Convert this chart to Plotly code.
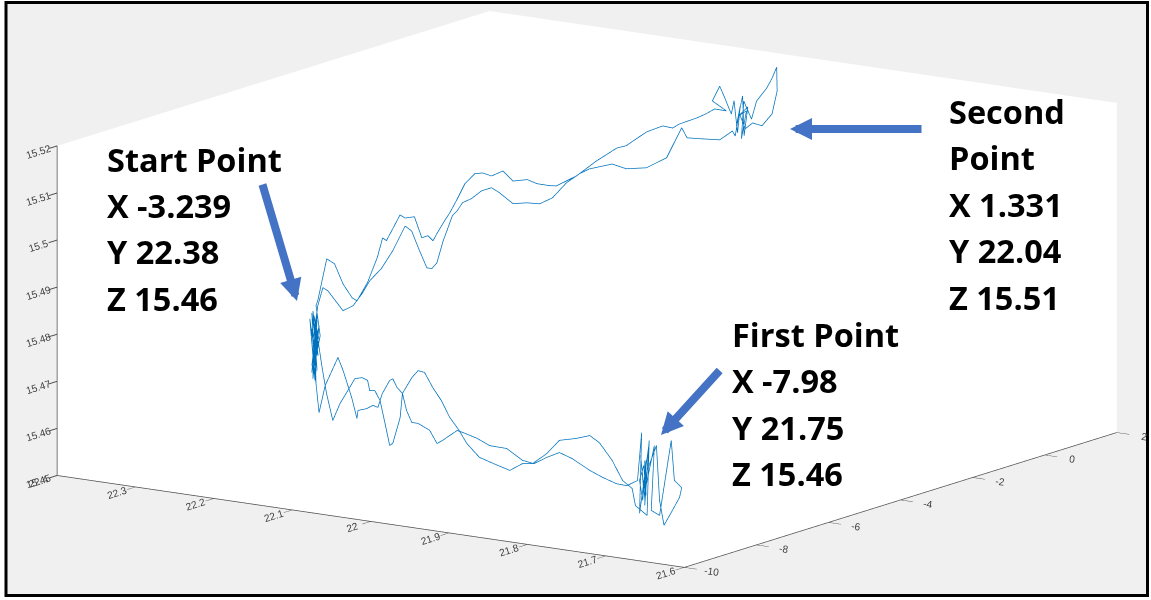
import plotly.graph_objects as go

# ---------------------------------------------------------------
# Recorded tool-tip trajectory, split into passes (X, Y, Z)
# ---------------------------------------------------------------
start_hover_a = [
    (-3.239, 22.380, 15.4600), (-3.230, 22.381, 15.4619), (-3.172, 22.389, 15.4685),
    (-3.216, 22.383, 15.4544), (-3.142, 22.393, 15.4671), (-3.245, 22.379, 15.4567),
    (-3.186, 22.387, 15.4690), (-3.260, 22.377, 15.4599), (-3.157, 22.391, 15.4646),
    (-3.230, 22.381, 15.4538), (-3.201, 22.385, 15.4681), (-3.274, 22.375, 15.4632),
    (-3.172, 22.389, 15.4573), (-3.245, 22.379, 15.4673), (-3.186, 22.387, 15.4553),
    (-3.260, 22.377, 15.4652), (-3.216, 22.383, 15.4559),
]

leg_to_first = [
    (-4.474, 22.320, 15.4521), (-4.562, 22.308, 15.4584), (-4.753, 22.283, 15.4654),
    (-4.826, 22.273, 15.4630), (-4.958, 22.256, 15.4580), (-5.031, 22.246, 15.4540),
    (-5.046, 22.244, 15.4558), (-5.178, 22.227, 15.4569), (-5.266, 22.215, 15.4581),
    (-5.339, 22.205, 15.4581), (-5.398, 22.197, 15.4613), (-5.515, 22.182, 15.4648),
    (-5.559, 22.176, 15.4654), (-5.617, 22.168, 15.4639), (-5.705, 22.157, 15.4631),
    (-5.837, 22.139, 15.4672), (-5.925, 22.127, 15.4692), (-6.028, 22.114, 15.4694),
    (-6.145, 22.098, 15.4668), (-6.277, 22.081, 15.4648), (-6.394, 22.065, 15.4619),
    (-6.541, 22.046, 15.4599), (-6.643, 22.032, 15.4578), (-6.834, 22.007, 15.4559),
    (-7.024, 21.981, 15.4557), (-7.273, 21.948, 15.4556), (-7.464, 21.923, 15.4581),
    (-7.640, 21.900, 15.4591), (-7.816, 21.876, 15.4614), (-8.006, 21.851, 15.4635),
    (-8.197, 21.826, 15.4633), (-8.446, 21.792, 15.4622), (-8.637, 21.767, 15.4618),
    (-8.842, 21.740, 15.4616), (-8.988, 21.720, 15.4620),
]

first_hover = [
    (-7.949, 21.754, 15.4598), (-8.008, 21.746, 15.4703), (-7.979, 21.750, 15.4530),
    (-8.125, 21.731, 15.4688), (-8.052, 21.740, 15.4551), (-8.081, 21.737, 15.4648),
    (-8.023, 21.744, 15.4560), (-7.980, 21.750, 15.4600), (-8.037, 21.742, 15.4635),
    (-8.081, 21.737, 15.4574), (-8.052, 21.740, 15.4646), (-8.067, 21.739, 15.4583),
    (-8.199, 21.721, 15.4686), (-8.155, 21.727, 15.4546), (-8.272, 21.711, 15.4542),
    (-8.448, 21.688, 15.4711), (-8.492, 21.682, 15.4629), (-8.594, 21.668, 15.4619),
    (-8.565, 21.672, 15.4597), (-8.462, 21.686, 15.4563), (-8.345, 21.702, 15.4525),
    (-8.272, 21.711, 15.4574), (-8.228, 21.717, 15.4688), (-8.096, 21.735, 15.4627),
    (-8.037, 21.742, 15.4582), (-7.993, 21.748, 15.4654), (-8.067, 21.739, 15.4562),
    (-8.125, 21.731, 15.4693), (-8.096, 21.735, 15.4532), (-7.920, 21.758, 15.4543),
]

leg_back_low = [
    (-9.076, 21.709, 15.4619), (-8.930, 21.728, 15.4628), (-8.783, 21.748, 15.4662),
    (-8.593, 21.773, 15.4689), (-8.446, 21.792, 15.4696), (-8.255, 21.818, 15.4679),
    (-8.006, 21.851, 15.4661), (-7.816, 21.876, 15.4622), (-7.611, 21.903, 15.4590),
    (-7.464, 21.923, 15.4588), (-7.229, 21.954, 15.4600), (-6.980, 21.987, 15.4592),
    (-6.790, 22.012, 15.4597), (-6.585, 22.040, 15.4598), (-6.497, 22.051, 15.4597),
    (-6.292, 22.079, 15.4564), (-6.204, 22.090, 15.4553), (-6.101, 22.104, 15.4575),
    (-5.925, 22.127, 15.4580), (-5.837, 22.139, 15.4577), (-5.764, 22.149, 15.4598),
    (-5.705, 22.157, 15.4631), (-5.661, 22.162, 15.4577), (-5.559, 22.176, 15.4517),
    (-5.515, 22.182, 15.4510), (-5.471, 22.188, 15.4539), (-5.368, 22.201, 15.4597),
    (-5.295, 22.211, 15.4614), (-5.222, 22.221, 15.4610), (-5.192, 22.225, 15.4630),
    (-5.104, 22.236, 15.4631), (-5.002, 22.250, 15.4623), (-4.928, 22.260, 15.4600),
    (-4.782, 22.279, 15.4558), (-4.679, 22.293, 15.4516), (-4.591, 22.305, 15.4568),
    (-4.518, 22.314, 15.4619),
]

start_hover_b = [
    (-3.260, 22.377, 15.4631), (-3.172, 22.389, 15.4558), (-3.230, 22.381, 15.4676),
    (-3.186, 22.387, 15.4546), (-3.274, 22.375, 15.4664), (-3.201, 22.385, 15.4606),
    (-3.245, 22.379, 15.4690), (-3.216, 22.383, 15.4582), (-3.289, 22.373, 15.4643),
    (-3.230, 22.381, 15.4704),
]

leg_to_second = [
    (-3.224, 22.379, 15.4715), (-3.129, 22.372, 15.4803), (-3.044, 22.366, 15.4792),
    (-2.960, 22.359, 15.4749), (-2.864, 22.352, 15.4719), (-2.811, 22.348, 15.4712),
    (-2.695, 22.340, 15.4750), (-2.600, 22.332, 15.4802), (-2.536, 22.328, 15.4844),
    (-2.494, 22.325, 15.4838), (-2.356, 22.314, 15.4892), (-2.303, 22.310, 15.4885),
    (-2.198, 22.303, 15.4887), (-2.123, 22.297, 15.4842), (-2.060, 22.292, 15.4846),
    (-2.007, 22.288, 15.4835), (-1.965, 22.285, 15.4850), (-1.880, 22.279, 15.4877),
    (-1.827, 22.275, 15.4893), (-1.742, 22.269, 15.4923), (-1.668, 22.263, 15.4954),
    (-1.562, 22.255, 15.4975), (-1.478, 22.249, 15.4976), (-1.383, 22.242, 15.4969),
    (-1.266, 22.233, 15.4979), (-1.160, 22.225, 15.4957), (-1.002, 22.214, 15.4959),
    (-0.906, 22.206, 15.4950), (-0.769, 22.196, 15.4945), (-0.695, 22.191, 15.4944),
    (-0.483, 22.175, 15.4964), (-0.271, 22.159, 15.4995), (-0.059, 22.143, 15.5021),
    (0.046, 22.136, 15.5025), (0.258, 22.120, 15.5053), (0.427, 22.107, 15.5065),
    (0.533, 22.099, 15.5060), (0.607, 22.094, 15.5068), (0.787, 22.080, 15.5080),
    (0.893, 22.073, 15.5088), (0.978, 22.066, 15.5098), (1.105, 22.057, 15.5093),
]

second_hover = [
    (0.957, 22.068, 15.5115), (1.031, 22.062, 15.5146), (1.084, 22.058, 15.5121),
    (1.158, 22.053, 15.5086), (1.189, 22.051, 15.5114), (1.221, 22.048, 15.5046),
    (1.253, 22.046, 15.5103), (1.210, 22.049, 15.5060), (1.274, 22.044, 15.5124),
    (1.295, 22.043, 15.5039), (1.331, 22.040, 15.5100), (1.232, 22.047, 15.5082),
    (1.316, 22.041, 15.5092), (1.263, 22.045, 15.5033), (1.285, 22.043, 15.5113),
    (1.369, 22.037, 15.5074), (1.422, 22.033, 15.5112), (1.528, 22.025, 15.5139),
    (1.581, 22.021, 15.5158), (1.634, 22.017, 15.5183), (1.645, 22.017, 15.5132),
    (1.592, 22.021, 15.5084), (1.486, 22.029, 15.5059), (1.380, 22.036, 15.5066),
    (1.306, 22.042, 15.5054), (1.242, 22.047, 15.5088), (1.200, 22.050, 15.5039),
    (1.168, 22.052, 15.5050),
]

leg_back_high = [
    (1.031, 22.062, 15.5032), (0.851, 22.076, 15.5035), (0.692, 22.088, 15.5038),
    (0.628, 22.092, 15.5060), (0.470, 22.104, 15.4997), (0.258, 22.120, 15.4977),
    (0.046, 22.136, 15.4976), (-0.102, 22.147, 15.4987), (-0.345, 22.165, 15.4978),
    (-0.451, 22.173, 15.4968), (-0.589, 22.183, 15.4950), (-0.737, 22.194, 15.4919),
    (-0.875, 22.204, 15.4907), (-1.012, 22.214, 15.4910), (-1.160, 22.225, 15.4909),
    (-1.298, 22.236, 15.4933), (-1.383, 22.242, 15.4944), (-1.488, 22.250, 15.4938),
    (-1.594, 22.258, 15.4922), (-1.690, 22.265, 15.4914), (-1.753, 22.269, 15.4897),
    (-1.795, 22.273, 15.4887), (-1.901, 22.280, 15.4834), (-1.965, 22.285, 15.4788),
    (-2.018, 22.289, 15.4776), (-2.071, 22.293, 15.4778), (-2.145, 22.299, 15.4815),
    (-2.229, 22.305, 15.4857), (-2.303, 22.310, 15.4868), (-2.430, 22.320, 15.4816),
    (-2.547, 22.329, 15.4779), (-2.674, 22.338, 15.4754), (-2.758, 22.344, 15.4727),
    (-2.854, 22.351, 15.4702), (-2.960, 22.359, 15.4692), (-3.118, 22.371, 15.4735),
    (-3.171, 22.375, 15.4742), (-3.224, 22.379, 15.4704),
]

start_hover_c = [
    (-3.186, 22.387, 15.4627), (-3.230, 22.381, 15.4562), (-3.172, 22.389, 15.4651),
    (-3.216, 22.383, 15.4595), (-3.245, 22.379, 15.4651),
]

passes = [start_hover_a, leg_to_first, first_hover, leg_back_low, start_hover_b,
          leg_to_second, second_hover, leg_back_high, start_hover_c]

xs = [p[0] for seg in passes for p in seg]
ys = [p[1] for seg in passes for p in seg]
zs = [p[2] for seg in passes for p in seg]

# Axis ticks
x_ticks = [-10, -8, -6, -4, -2, 0, 2]
x_tick_text = ["-10", "-8", "-6", "-4", "-2", "0", "2"]
y_ticks = [21.6, 21.7, 21.8, 21.9, 22.0, 22.1, 22.2, 22.3, 22.4]
y_tick_text = ["21.6", "21.7", "21.8", "21.9", "22", "22.1", "22.2", "22.3", "22.4"]
z_ticks = [15.45, 15.46, 15.47, 15.48, 15.49, 15.50, 15.51, 15.52]
z_tick_text = ["15.45", "15.46", "15.47", "15.48", "15.49", "15.5", "15.51", "15.52"]

# Callout texts
start_lines = ["Start Point", "X -3.239", "Y 22.38", "Z 15.46"]
first_lines = ["First Point", "X -7.98", "Y 21.75", "Z 15.46"]
second_lines = ["Second", "Point", "X 1.331", "Y 22.04", "Z 15.51"]

W, H = 1151, 600


def px(x):
    return x / W


def py(y):
    return 1 - y / H


fig = go.Figure()
fig.add_trace(go.Scatter3d(
    x=xs, y=ys, z=zs, mode="lines",
    line=dict(color="#0072BD", width=1.5),
    hoverinfo="skip", showlegend=False,
))

axis_style = dict(
    showgrid=False, zeroline=False, showline=True,
    linecolor="#4d4d4d", linewidth=1.5,
    ticks="outside", ticklen=15, tickwidth=2, tickcolor="#4d4d4d",
    tickfont=dict(family="Liberation Sans", size=11, color="#404040"),
    showbackground=True, backgroundcolor="white",
    showspikes=False, title=dict(text=""),
)

# Orthographic view: azimuth ~214.4 deg, elevation ~12.3 deg
eye_dir = (-0.80571, -0.55232, 0.21372)
shift = (-0.0210, 0.0320, -0.0370)
eye = dict(x=2 * eye_dir[0] + shift[0], y=2 * eye_dir[1] + shift[1], z=2 * eye_dir[2] + shift[2])

box_scale = 2.55

fig.update_layout(
    width=W, height=H,
    margin=dict(l=0, r=0, t=0, b=0),
    paper_bgcolor="white",
    scene=dict(
        domain=dict(x=[0, 1], y=[0, 1]),
        bgcolor="rgba(0,0,0,0)",
        xaxis=dict(range=[-10, 2], tickvals=x_ticks, ticktext=x_tick_text, **axis_style),
        yaxis=dict(range=[21.6, 22.4], tickvals=y_ticks, ticktext=y_tick_text, **axis_style),
        zaxis=dict(range=[15.45, 15.52], tickvals=z_ticks, ticktext=z_tick_text, **axis_style),
        aspectmode="manual",
        aspectratio=dict(x=box_scale * 1.0, y=box_scale * 0.994, z=box_scale * 0.441),
        camera=dict(
            eye=eye,
            center=dict(x=shift[0], y=shift[1], z=shift[2]),
            up=dict(x=0, y=0, z=1),
            projection=dict(type="orthographic"),
        ),
    ),
)

# Figure frame
fig.add_shape(type="rect", xref="paper", yref="paper",
              x0=px(6), x1=px(1147.5), y0=py(595.5), y1=py(2.5),
              line=dict(color="black", width=3), fillcolor="#f0f0f0", layer="below")

text_font = dict(family="Open Sans", size=32.5, color="black")


def add_block(lines, x_left, y_first, step):
    for i, t in enumerate(lines):
        fig.add_annotation(
            xref="paper", yref="paper", x=px(x_left), y=py(y_first + i * step),
            text="<b>%s</b>" % t, showarrow=False, xanchor="left", yanchor="middle",
            font=text_font,
        )


add_block(start_lines, 105, 159, 46.5)
add_block(first_lines, 730, 334, 46.5)
add_block(second_lines, 947, 111, 46.5)

arrow_style = dict(showarrow=True, arrowhead=2, arrowsize=0.55, arrowwidth=8,
                   arrowcolor="#4472C4", text="", xref="paper", yref="paper")
fig.add_annotation(x=px(297), y=py(301), ax=-35, ay=-118, **arrow_style)
fig.add_annotation(x=px(790), y=py(129), ax=133, ay=0, **arrow_style)
fig.add_annotation(x=px(661), y=py(435), ax=60, ay=-66, **arrow_style)

fig.write_html("out.html", config={"displayModeBar": False})
